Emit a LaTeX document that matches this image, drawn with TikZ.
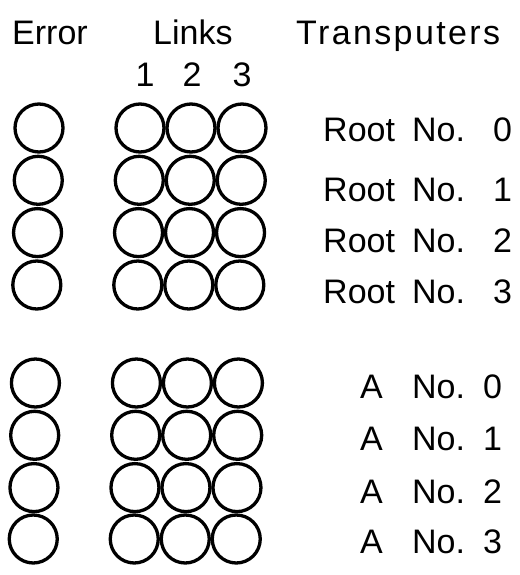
\documentclass[tikz,border=0pt]{standalone}
\usepackage{fontspec}
\setmainfont{Liberation Sans}
\begin{document}
\begin{tikzpicture}[x=1pt,y=-1pt,
  ring/.style={circle,draw,line width=3.3pt,minimum size=48pt,inner sep=0pt},
  lab/.style={font=\fontsize{34}{36}\selectfont,inner sep=0pt,anchor=base west},
  num/.style={font=\fontsize{34}{36}\selectfont,inner sep=0pt,anchor=base}]
\useasboundingbox (0,0) rectangle (519,575);
% headings
\node[lab] (herr) at (12,45) {Error};
\node[lab] (hlinks) at (153,45) {Links};
\node[lab] (htrans) at (296,45) {\addfontfeature{LetterSpace=7}Transputers};
\node[num] (n1) at (145,87) {1};
\node[num] (n2) at (192,87) {2};
\node[num] (n3) at (242,87) {3};
% top group (Root)
\foreach \r/\yy in {0/128,1/180.3,2/232.6,3/285} {
  \pgfmathsetmacro{\dx}{-0.014*(\yy-128)}
  \node[ring] (re\r) at (39+\dx,\yy) {};
  \node[ring] (rla\r) at (140+\dx,\yy) {};
  \node[ring] (rlb\r) at (191+\dx,\yy) {};
  \node[ring] (rlc\r) at (242+\dx,\yy) {};
}
% bottom group (A)
\foreach \r/\yy in {0/383,1/435.3,2/487.6,3/539} {
  \pgfmathsetmacro{\dx}{-0.014*(\yy-128)}
  \node[ring] (ae\r) at (39+\dx,\yy) {};
  \node[ring] (ala\r) at (140+\dx,\yy) {};
  \node[ring] (alb\r) at (191+\dx,\yy) {};
  \node[ring] (alc\r) at (242+\dx,\yy) {};
}
% labels
\node[lab] (rt0) at (323,142) {\makebox[89pt][l]{Root}\makebox[81pt][l]{No.}0};
\node[lab] (rt1) at (323,201) {\makebox[89pt][l]{Root}\makebox[81pt][l]{No.}1};
\node[lab] (rt2) at (323,252) {\makebox[89pt][l]{Root}\makebox[81pt][l]{No.}2};
\node[lab] (rt3) at (323,303) {\makebox[89pt][l]{Root}\makebox[81pt][l]{No.}3};
\node[lab] (at0) at (360,398) {\makebox[52pt][l]{A}\makebox[71pt][l]{No.}0};
\node[lab] (at1) at (360,450) {\makebox[52pt][l]{A}\makebox[71pt][l]{No.}1};
\node[lab] (at2) at (360,503) {\makebox[52pt][l]{A}\makebox[71pt][l]{No.}2};
\node[lab] (at3) at (360,553) {\makebox[52pt][l]{A}\makebox[71pt][l]{No.}3};
\end{tikzpicture}
\end{document}
